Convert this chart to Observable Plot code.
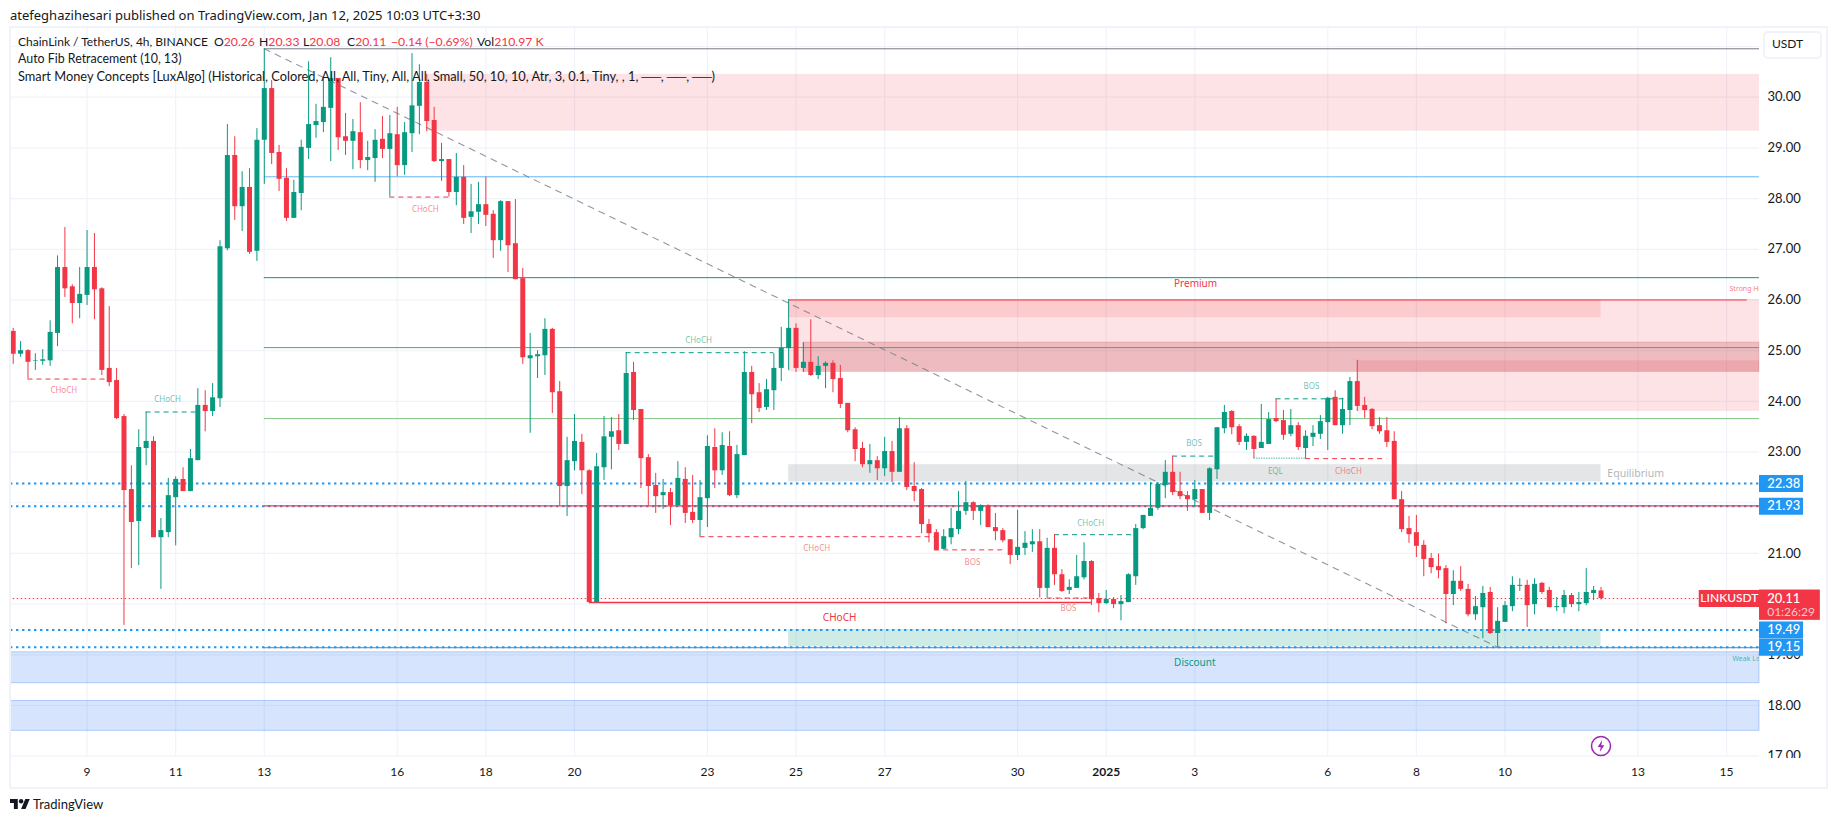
<!DOCTYPE html>
<html><head><meta charset="utf-8">
<script src="https://cdn.jsdelivr.net/npm/d3@7"></script>
<script src="https://cdn.jsdelivr.net/npm/@observablehq/plot@0.6"></script>
<style>
html,body{margin:0;padding:0;background:#fff;overflow:hidden;width:1835px;height:821px}
#chart{position:absolute;left:0;top:0}
#frame{position:absolute;left:9px;top:26px;width:1815px;height:759px;border:2px solid #f0f3fa;pointer-events:none}
.t{position:absolute;white-space:nowrap;font-family:Lato,sans-serif;font-size:12.2px;line-height:16px;color:#131722}
.r{color:#f23645}
</style></head><body>
<div id="chart"></div><div id="frame"></div>
<div id="cover" style="position:absolute;left:1761px;top:758px;width:50px;height:9px;background:#fff"></div>
<div class="t" style="left:10px;top:7px;font-size:13px;font-family:'Noto Sans',sans-serif" id="pub">atefeghazihesari published on TradingView.com, Jan 12, 2025 10:03 UTC+3:30</div>
<div class="t" style="left:18px;top:34px;font-size:12px">ChainLink / TetherUS, 4h, BINANCE</div>
<div class="t" style="left:214px;top:34px">O<span class="r">20.26</span></div>
<div class="t" style="left:259px;top:34px">H<span class="r">20.33</span></div>
<div class="t" style="left:303px;top:34px">L<span class="r">20.08</span></div>
<div class="t" style="left:347px;top:34px">C<span class="r">20.11</span></div>
<div class="t r" style="left:391px;top:34px">−0.14 (−0.69%)</div>
<div class="t" style="left:477px;top:34px">Vol<span class="r">210.97 K</span></div>
<div class="t" style="left:18px;top:51px;font-size:12.4px">Auto Fib Retracement (10, 13)</div>
<div class="t" style="left:18px;top:68px;font-size:12.8px">Smart Money Concepts [LuxAlgo] (Historical, Colored, All, All, Tiny, All, All, Small, 50, 10, 10, Atr, 3, 0.1, Tiny, , 1, ──, ──, ──)</div>
<div style="position:absolute;left:1763px;top:31px;width:55px;height:24px;border:2px solid #f0f3fa;border-radius:5px;background:#fff"></div>
<div class="t" style="left:1772px;top:36px;font-size:12px">USDT</div>
<svg style="position:absolute;left:10px;top:798px" width="20" height="12" viewBox="0 3 36 20"><path fill="#131722" d="M14 22H7V11H0V4h14v18zM28 22h-8l7.5-18h8L28 22z"/><circle cx="20" cy="8" r="4" fill="#131722"/></svg>
<div class="t" style="left:33px;top:796px;font-size:13px">TradingView</div>
<script>
// 4h candles, ChainLink / TetherUS
const opens=[25.38,24.93,25.00,24.79,24.79,24.80,25.34,26.64,26.26,25.93,26.09,26.64,26.22,24.65,24.41,23.70,22.26,21.63,23.07,23.21,
21.31,21.41,22.10,22.46,22.22,22.83,23.92,23.80,24.05,27.01,28.85,27.84,28.22,26.96,29.15,30.17,28.91,28.40,27.61,28.10,
28.99,29.44,29.50,29.78,30.37,29.22,29.13,29.30,28.75,28.79,29.17,28.97,29.26,28.65,29.28,29.82,30.29,29.54,28.73,28.77,
28.12,28.42,27.63,27.73,27.88,27.69,27.17,27.94,27.11,26.42,24.84,24.88,24.90,25.42,24.19,22.32,22.81,23.19,22.63,20.03,
22.69,23.29,23.42,23.15,24.57,23.84,22.89,22.34,22.14,22.20,21.94,22.46,21.81,21.65,22.08,23.09,22.63,23.11,22.14,22.93,
24.57,24.17,23.88,24.21,24.65,25.04,25.44,24.65,24.77,24.51,24.69,24.75,24.45,23.96,23.44,23.07,22.75,22.83,22.67,23.01,
22.60,23.46,22.32,22.26,21.57,21.41,21.08,21.31,21.47,21.83,22.00,21.83,21.94,21.51,21.45,21.27,20.96,21.10,21.17,21.23,
20.31,21.10,20.58,20.27,20.31,20.52,20.84,20.11,20.01,20.09,19.99,20.03,20.54,21.49,21.73,21.89,22.34,22.60,22.22,22.14,
22.06,22.26,21.79,22.65,23.46,23.80,23.50,23.19,23.31,23.07,23.15,23.66,23.62,23.35,23.52,23.07,23.29,23.35,23.58,24.08,
23.52,23.82,24.39,23.92,23.84,23.52,23.42,23.21,22.06,21.49,21.41,21.16,20.90,20.74,20.70,20.19,20.45,20.29,19.79,19.93,
20.23,19.42,19.64,19.95,20.35,20.37,19.99,20.41,20.27,19.93,19.93,20.17,19.99,20.01,20.21,20.26];
const highs=[25.44,25.18,25.02,24.94,25.02,25.59,26.87,27.43,26.30,26.64,27.37,27.31,26.24,25.87,24.65,23.74,22.73,23.44,23.79,23.30,
21.69,22.48,22.51,22.69,23.05,24.25,24.21,24.35,27.17,29.46,29.22,28.53,28.59,29.38,30.95,30.33,29.05,28.59,28.36,29.15,
30.70,29.86,30.39,30.78,30.37,29.68,29.56,29.89,29.13,29.36,29.62,29.64,29.80,29.50,30.86,30.64,30.45,29.80,29.09,28.77,
28.89,28.65,28.28,28.32,28.42,27.76,27.96,27.94,27.98,26.62,25.34,25.00,25.63,25.44,24.39,23.29,23.74,23.35,22.65,22.97,
23.70,23.68,23.74,24.96,24.77,23.84,22.95,22.58,22.46,22.28,22.81,22.69,22.54,22.44,23.32,23.46,23.38,23.40,23.13,24.98,
24.69,24.35,24.43,24.94,25.46,26.00,25.53,25.16,25.61,24.88,24.78,24.80,24.71,23.96,23.48,23.19,23.15,22.91,23.29,23.21,
23.68,23.52,22.79,22.28,21.67,21.47,21.47,21.89,22.22,22.42,22.02,21.96,21.96,21.79,21.49,21.27,21.85,21.43,21.47,21.47,
21.30,21.37,20.68,20.48,20.96,21.21,20.86,20.21,20.27,20.13,20.17,20.60,21.57,21.75,22.40,22.40,22.83,22.92,22.60,22.22,
22.44,22.26,22.69,23.48,23.92,23.82,23.54,23.36,23.32,23.94,23.78,24.05,23.82,23.84,23.58,23.42,23.52,23.72,24.08,24.21,
24.06,24.47,24.81,24.08,23.86,23.68,23.68,23.40,22.22,21.73,21.75,21.25,21.00,20.99,20.76,20.66,20.74,20.39,20.15,20.35,
20.33,19.93,20.05,20.54,20.50,20.47,20.50,20.43,20.33,20.13,20.27,20.21,20.23,20.70,20.35,20.33];
const lows=[24.73,24.87,24.44,24.61,24.71,24.69,25.08,26.05,25.53,25.63,25.89,25.61,24.51,24.29,23.64,19.58,20.70,20.76,22.73,21.31,
20.29,21.31,21.15,22.22,22.22,22.83,23.40,23.70,23.88,26.97,27.57,27.35,26.90,26.76,28.28,28.67,28.14,27.55,27.61,27.76,
28.77,29.19,29.30,28.73,28.95,28.85,28.57,28.59,28.55,28.32,28.79,28.03,28.43,28.46,28.91,29.26,29.32,28.71,28.34,28.03,
27.86,27.49,27.31,27.49,27.45,26.82,26.96,26.54,26.40,24.73,23.37,24.45,24.51,23.76,21.94,21.73,22.63,22.16,20.03,20.03,
22.44,22.65,23.03,23.15,23.62,22.28,21.94,21.79,21.87,21.55,21.94,21.59,21.59,21.33,21.51,22.28,22.54,22.12,22.08,22.93,
23.56,23.78,23.82,23.82,24.39,24.61,24.57,24.57,24.49,24.43,24.25,24.17,23.86,23.38,22.81,22.69,22.58,22.44,22.52,22.40,
22.60,22.24,22.02,21.39,21.21,21.05,21.08,21.17,21.37,21.75,21.65,21.55,21.51,21.25,21.21,20.78,20.86,20.96,21.02,20.12,
20.12,20.37,20.23,20.19,20.31,20.48,19.97,19.83,19.99,19.91,19.67,20.03,20.37,21.47,21.73,21.85,22.08,22.14,22.06,21.83,
21.90,21.79,21.65,22.46,23.36,23.34,23.13,23.03,22.87,23.07,23.15,23.58,23.23,23.30,23.03,22.87,23.11,23.25,23.03,23.52,
23.35,23.52,23.80,23.66,23.44,23.35,23.09,22.06,21.41,21.20,20.92,20.54,20.60,20.50,19.61,19.97,20.25,19.75,19.68,19.32,
19.40,19.15,19.64,19.85,20.25,19.54,19.79,20.19,19.93,19.85,19.81,19.93,19.85,19.97,20.07,20.08];
const closes=[24.93,25.00,24.77,24.80,24.82,25.36,26.64,26.22,25.93,26.11,26.64,26.20,24.61,24.37,23.66,22.24,21.61,23.09,23.21,21.31,
21.45,22.14,22.46,22.22,22.87,23.92,23.80,24.07,27.05,28.85,27.84,28.22,26.94,29.15,30.17,28.89,28.38,27.61,28.12,29.01,
29.46,29.52,29.80,30.37,29.20,29.13,29.32,28.75,28.81,29.15,28.97,29.28,28.65,29.30,29.83,30.29,29.52,28.73,28.77,28.12,
28.42,27.61,27.74,27.88,27.67,27.17,27.94,27.07,26.40,24.86,24.90,24.92,25.42,24.17,22.32,22.83,23.21,22.63,20.03,22.71,
23.30,23.40,23.15,24.55,23.82,22.87,22.32,22.12,22.20,21.94,22.48,21.79,21.65,22.10,23.11,22.63,23.13,22.14,22.95,24.57,
24.13,23.86,24.23,24.65,25.05,25.44,24.65,24.77,24.51,24.69,24.75,24.43,23.94,23.42,23.05,22.75,22.83,22.67,23.01,22.60,
23.46,22.30,22.22,21.57,21.39,21.05,21.33,21.49,21.83,22.00,21.83,21.94,21.51,21.43,21.25,20.96,21.12,21.20,21.23,20.31,
21.10,20.58,20.25,20.33,20.54,20.84,20.09,20.01,20.09,19.99,20.05,20.58,21.49,21.75,21.89,22.36,22.60,22.20,22.12,22.06,
22.26,21.79,22.67,23.48,23.78,23.48,23.19,23.31,23.05,23.19,23.64,23.60,23.33,23.52,23.09,23.31,23.37,23.60,24.06,23.52,
23.84,24.39,23.90,23.82,23.50,23.40,23.19,22.06,21.47,21.37,21.14,20.88,20.72,20.66,20.19,20.45,20.29,19.79,19.95,20.21,
19.42,19.66,19.97,20.37,20.37,19.97,20.39,20.23,19.93,19.95,20.17,19.99,20.03,20.23,20.27,20.11];
const candles=opens.map((o,i)=>({i,o,h:highs[i],l:lows[i],c:closes[i]}));

const priceTicks=[17,18,19,21,23,24,25,26,27,28,29,30];
const gridPrices=[17,18,19,20,21,22,23,24,25,26,27,28,29,30,31];
const timeBars=[10,22,34,52,64,76,94,106,118,136,160,178,190,202,220,232];
const timeLabels=["9","11","13","16","18","20","23","25","27","30","3","6","8","10","13","15"];
const yearBar=[148];
const paneEnd=236.46, tagEnd=242.42, tagLong=244.7, textBar=237.5, nameTag=228.3, fibStart=34, zoneEnd=215;

const redZones=[
 {x1:56,x2:paneEnd,y1:30.45,y2:29.33},
 {x1:105,x2:paneEnd,y1:26.01,y2:24.58},
 {x1:105,x2:zoneEnd,y1:26.01,y2:25.65},
 {x1:182,x2:paneEnd,y1:24.80,y2:23.80}];
const overlapZone=[{x1:107,x2:paneEnd,y1:25.16,y2:24.58}];
const blueZones=[{x1:-0.366,x2:paneEnd,y1:19.05,y2:18.44},{x1:-0.366,x2:paneEnd,y1:18.09,y2:17.50}];
const equilibrium=[{x1:105,x2:zoneEnd,y1:22.75,y2:22.41}];
const discount=[{x1:105,x2:zoneEnd,y1:19.50,y2:19.16}];

const fibGrey=[30.955,19.14], fibBlue=[28.43], fibTeal=[26.44], fibGreen=[25.06], fibLight=[23.66], fibRed=[21.94];
const diagonal=[{x:34,y:30.955},{x:201,y:19.15}];
const levels=[22.38,21.93,19.49,19.15];
const last=20.11;
const strong=[{x1:105,x2:234.8,y:26.0}];

const redDash=[{x1:2,x2:13,y:24.44},{x1:51,x2:59,y:28.03},{x1:93,x2:125,y:21.33},{x1:126,x2:134,y:21.07},{x1:140,x2:146,y:20.12},{x1:175,x2:186,y:22.87}];
const greenDash=[{x1:18,x2:25,y:23.79},{x1:83,x2:103,y:24.96},{x1:141,x2:152,y:21.37},{x1:157,x2:163,y:22.92},{x1:171,x2:181,y:24.05}];
const eqlDots=[{x1:168,x2:175,y:22.88}];
const redSolid=[{x1:78,x2:146,y:20.03}];

const redLabels=[{t:"CHoCH",x:6.85,y:24.22},{t:"CHoCH",x:55.8,y:27.79},{t:"CHoCH",x:108.8,y:21.09},{t:"BOS",x:129.9,y:20.83},{t:"BOS",x:142.9,y:19.91},{t:"CHoCH",x:180.8,y:22.62}];
const greenLabels=[{t:"CHoCH",x:20.9,y:24.03},{t:"CHoCH",x:92.8,y:25.2},{t:"CHoCH",x:145.9,y:21.6},{t:"BOS",x:159.9,y:23.16},{t:"EQL",x:170.9,y:22.62},{t:"BOS",x:175.8,y:24.3}];

const G="#089981",R="#f23645",B="#2196f3",GRID="#f0f3fa",F='Lato,sans-serif';
const bolt={draw(c,size){const r=Math.sqrt(size/Math.PI);
 [[.2,-1],[-.55,.15],[-.05,.15],[-.2,1],[.55,-.15],[.05,-.15]].forEach((p,i)=>i?c.lineTo(p[0]*r,p[1]*r):c.moveTo(p[0]*r,p[1]*r));c.closePath();}};
const seg=(d,o)=>Plot.ruleY(d,{x1:"x1",x2:"x2",y:"y",...o});
const box=(d,o)=>Plot.rect(d,{x1:"x1",x2:"x2",y1:"y1",y2:"y2",...o});
const hl=(v,color,o={})=>Plot.ruleY(v,{x1:()=>fibStart,x2:()=>paneEnd,stroke:color,strokeWidth:1,...o});

const plot=Plot.plot({
 width:1835,height:821,marginLeft:10,marginRight:76,marginTop:27,marginBottom:65.3,
 style:{fontFamily:F,color:"#131722",background:"transparent"},
 x:{type:"linear",domain:[-0.366,paneEnd]},
 y:{type:"linear",domain:[17,31.375]},
 marks:[
  Plot.ruleY(gridPrices,{stroke:GRID,strokeWidth:1.2}),
  Plot.ruleX(timeBars.concat(yearBar),{stroke:GRID,strokeWidth:1.2}),
  box(redZones,{fill:R,fillOpacity:.14}),
  box(overlapZone,{fill:"#b4232f",fillOpacity:.2,stroke:"#b4232f",strokeOpacity:.15}),
  box(blueZones,{fill:"#2771f4",fillOpacity:.19,stroke:"#2771f4",strokeOpacity:.3}),
  box(equilibrium,{fill:"#787b86",fillOpacity:.2}),
  box(discount,{fill:G,fillOpacity:.2}),
  hl(fibGrey,"#787b86"),hl(fibBlue,"#64b5f6"),hl(fibTeal,G),hl(fibGreen,"#4caf50"),hl(fibLight,"#81c784"),
  Plot.line(diagonal,{x:"x",y:"y",stroke:"#787b86",strokeOpacity:.8,strokeWidth:1.1,strokeDasharray:"6 6"}),
  Plot.ruleY(levels,{stroke:B,strokeWidth:2,strokeDasharray:"2.4 3.6"}),
  hl(fibRed,R,{strokeWidth:1.3}),
  Plot.ruleY([last],{stroke:R,strokeWidth:1,strokeDasharray:"1.5 2.5",x2:()=>paneEnd}),
  seg(strong,{stroke:R,strokeWidth:1}),
  seg(redDash,{stroke:R,strokeWidth:1,strokeDasharray:"5 4"}),
  seg(greenDash,{stroke:G,strokeWidth:1,strokeDasharray:"5 4"}),
  seg(eqlDots,{stroke:G,strokeOpacity:.7,strokeWidth:1,strokeDasharray:"1.5 1"}),
  seg(redSolid,{stroke:R,strokeWidth:1.5}),
  Plot.ruleX(candles,{x:"i",y1:"l",y2:"h",stroke:d=>d.c>=d.o?G:R,strokeWidth:1}),
  Plot.ruleX(candles,{x:"i",y1:"o",y2:"c",stroke:d=>d.c>=d.o?G:R,strokeWidth:5}),
  Plot.text(redLabels,{x:"x",y:"y",text:"t",fill:R,fillOpacity:.6,fontSize:8,fontFamily:"Noto Sans"}),
  Plot.text(greenLabels,{x:"x",y:"y",text:"t",fill:G,fillOpacity:.6,fontSize:8,fontFamily:"Noto Sans"}),
  Plot.text(["CHoCH"],{x:()=>111.9,y:()=>19.74,fill:R,fontSize:10,fontFamily:"Noto Sans"}),
  Plot.text(["Premium"],{x:()=>160.1,y:()=>26.32,fill:R,fontSize:10,fontFamily:"Noto Sans"}),
  Plot.text(["Discount"],{x:()=>160,y:()=>18.85,fill:G,fontSize:10,fontFamily:"Noto Sans"}),
  Plot.text(["Equilibrium"],{x:()=>219.7,y:()=>22.58,fill:"#b2b5be",fontSize:10.5,fontFamily:"Noto Sans"}),
  Plot.text(["Strong High"],{x:()=>232.4,y:()=>26.23,fill:R,fillOpacity:.7,fontSize:7,textAnchor:"start",clip:true,fontFamily:"Noto Sans"}),
  Plot.text(["Weak Low"],{x:()=>232.8,y:()=>18.92,fill:G,fillOpacity:.7,fontSize:7,textAnchor:"start",clip:true,fontFamily:"Noto Sans"}),
  Plot.dot([{x:215,y:17.2}],{x:"x",y:"y",r:9.5,stroke:"#9c27b0",strokeWidth:1.5,fill:"white"}),
  Plot.dot([{x:215,y:17.2}],{x:"x",y:"y",r:6,symbol:bolt,fill:"#9c27b0",stroke:"none"}),
  Plot.axisY({anchor:"right",ticks:priceTicks,tickSize:0,tickPadding:8,tickFormat:d=>d.toFixed(2),label:null,fontSize:13}),
  Plot.axisX({anchor:"bottom",ticks:timeBars,tickSize:0,tickPadding:11,tickFormat:d=>timeLabels[timeBars.indexOf(d)],label:null,fontSize:12}),
  Plot.axisX({anchor:"bottom",ticks:yearBar,tickSize:0,tickPadding:11,tickFormat:()=>"2025",label:null,fontSize:12,fontWeight:"bold"}),
  Plot.ruleY(levels,{x1:()=>paneEnd,x2:()=>tagEnd,stroke:B,strokeWidth:17}),
  Plot.text(levels,{x:()=>textBar,y:d=>d,text:d=>d.toFixed(2),fill:"white",fontSize:13,fontWeight:500,textAnchor:"start"}),
  Plot.rect([{y1:last+0.168,y2:last-0.43}],{x1:()=>paneEnd,x2:()=>tagLong,y1:"y1",y2:"y2",fill:R}),
  Plot.ruleY([last],{x1:()=>nameTag,x2:()=>paneEnd,stroke:R,strokeWidth:17}),
  Plot.text(["LINKUSDT"],{x:()=>(nameTag+paneEnd)/2,y:()=>last,fill:"white",fontSize:12,fontWeight:500}),
  Plot.text([last],{x:()=>textBar,y:d=>d,text:d=>d.toFixed(2),fill:"white",fontSize:13,fontWeight:500,textAnchor:"start"}),
  Plot.text(["01:26:29"],{x:()=>textBar,y:()=>last,dy:14,fill:"#ffc9ce",fontSize:12,textAnchor:"start"})
 ]
});
document.getElementById("chart").appendChild(plot);
</script>
</body></html>
